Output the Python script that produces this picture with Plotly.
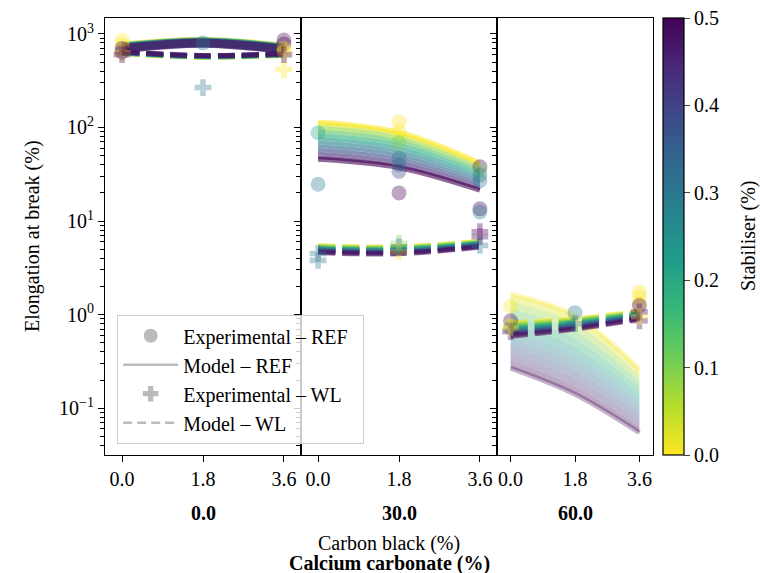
import plotly.graph_objects as go
from plotly.colors import sample_colorscale, unlabel_rgb

# ---------------------------------------------------------------- data
cb_levels = [0.0, 1.8, 3.6]                     # carbon black (%)
cb_ticktext = ["0.0", "1.8", "3.6"]
caco3_labels = ["0.0", "30.0", "60.0"]          # calcium carbonate (%)
stab_levels = [0.0, 0.05, 0.1, 0.15, 0.2, 0.25, 0.3, 0.35, 0.4, 0.45, 0.5]

# model predictions, one row per stabiliser level, columns = cb_levels
ref_model_p1 = [[741, 832, 724], [736, 828, 719], [731, 824, 714], [726, 820, 709],
                [721, 816, 705], [716, 813, 700], [711, 809, 695], [706, 805, 690],
                [701, 801, 686], [697, 797, 681], [692, 794, 676]]
wl_model_p1 = [[617, 562, 589], [620, 565, 592], [623, 567, 595], [625, 570, 597],
               [628, 572, 600], [631, 575, 603], [634, 578, 606], [637, 581, 609],
               [640, 583, 611], [643, 586, 614], [646, 589, 617]]
ref_model_p2 = [[114.8, 89.1, 41.7], [104.7, 81.7, 39.0], [95.5, 74.8, 36.5],
                [87.1, 68.5, 34.1], [79.4, 62.8, 31.9], [72.4, 57.5, 29.9],
                [66.1, 52.7, 27.9], [60.3, 48.3, 26.1], [55.0, 44.3, 24.4],
                [50.1, 40.6, 22.9], [45.7, 37.2, 21.4]]
wl_model_p2 = [[5.47, 5.33, 6.11], [5.38, 5.24, 6.02], [5.28, 5.15, 5.93],
               [5.19, 5.06, 5.84], [5.10, 4.97, 5.76], [5.02, 4.89, 5.67],
               [4.93, 4.80, 5.59], [4.85, 4.72, 5.51], [4.76, 4.64, 5.43],
               [4.68, 4.56, 5.35], [4.60, 4.48, 5.27]]
ref_model_p3 = [[1.656, 0.975, 0.261], [1.380, 0.804, 0.223], [1.151, 0.662, 0.191],
                [0.959, 0.546, 0.163], [0.800, 0.450, 0.140], [0.666, 0.371, 0.119],
                [0.555, 0.306, 0.102], [0.462, 0.252, 0.0875], [0.385, 0.208, 0.0748],
                [0.321, 0.171, 0.0640], [0.268, 0.141, 0.0547]]
wl_model_p3 = [[0.820, 0.906, 1.089], [0.793, 0.883, 1.068], [0.767, 0.860, 1.047],
               [0.742, 0.838, 1.027], [0.718, 0.817, 1.007], [0.695, 0.796, 0.987],
               [0.672, 0.776, 0.968], [0.650, 0.756, 0.949], [0.629, 0.737, 0.931],
               [0.609, 0.718, 0.913], [0.589, 0.700, 0.895]]

# experimental results: carbon black, stabiliser, elongation at break
ref_exp_p1_cb = [0, 0, 0, 0, 1.8, 3.6, 3.6, 3.6, 3.6]
ref_exp_p1_stab = [0.0, 0.0, 0.5, 0.5, 0.3, 0.5, 0.5, 0.0, 0.0]
ref_exp_p1_val = [850, 760, 700, 640, 800, 860, 780, 700, 640]
wl_exp_p1_cb = [0, 0, 1.8, 3.6, 3.6]
wl_exp_p1_stab = [0.0, 0.5, 0.3, 0.0, 0.5]
wl_exp_p1_val = [630, 600, 267, 415, 600]

ref_exp_p2_cb = [0, 0, 1.8, 1.8, 1.8, 1.8, 1.8, 1.8, 1.8, 3.6, 3.6, 3.6, 3.6, 3.6, 3.6]
ref_exp_p2_stab = [0.2, 0.3, 0.0, 0.0, 0.1, 0.3, 0.3, 0.4, 0.5, 0.5, 0.1, 0.3, 0.3, 0.5, 0.3]
ref_exp_p2_val = [88, 24.7, 115, 90, 69, 47, 40, 34, 20, 38, 35, 31, 27, 13.5, 12.5]
wl_exp_p2_cb = [0, 0, 1.8, 1.8, 1.8, 3.6, 3.6, 3.6]
wl_exp_p2_stab = [0.3, 0.3, 0.1, 0.0, 0.3, 0.5, 0.5, 0.3]
wl_exp_p2_val = [4.5, 3.8, 5.8, 4.7, 5.3, 7.7, 6.8, 5.5]

ref_exp_p3_cb = [0, 0, 0, 0, 1.8, 3.6, 3.6, 3.6, 3.6]
ref_exp_p3_stab = [0.0, 0.5, 0.0, 0.3, 0.3, 0.0, 0.0, 0.0, 0.5]
ref_exp_p3_val = [1.23, 0.86, 0.76, 0.72, 1.05, 1.75, 1.55, 1.32, 1.25]
wl_exp_p3_cb = [0, 0, 1.8, 3.6, 3.6, 3.6]
wl_exp_p3_stab = [0.5, 0.0, 0.3, 0.5, 0.5, 0.0]
wl_exp_p3_val = [0.66, 0.72, 0.8, 1.07, 0.86, 0.95]

stab_ticks = [0.0, 0.1, 0.2, 0.3, 0.4, 0.5]
stab_ticktext = ["0.0", "0.1", "0.2", "0.3", "0.4", "0.5"]

# ---------------------------------------------------------------- styling
W, H = 760, 573
FONT = "Liberation Serif"
STAB_MAX = 0.5
NBSP = "\u00a0"


def px(x):
    return x / W


def py(y):
    return 1 - y / H


def stab_colour(s, alpha):
    r, g, b = unlabel_rgb(sample_colorscale("Viridis", [1 - s / STAB_MAX])[0])
    return f"rgba({int(r)},{int(g)},{int(b)},{alpha})"


fig = go.Figure()

# per panel: model tables, experimental points, REF band style
# band style = (as filled band?, line width, line alpha, fill alpha)
panels = [
    (ref_model_p1, wl_model_p1, ref_exp_p1_cb, ref_exp_p1_stab, ref_exp_p1_val,
     wl_exp_p1_cb, wl_exp_p1_stab, wl_exp_p1_val, (False, 9, 0.4, 0)),
    (ref_model_p2, wl_model_p2, ref_exp_p2_cb, ref_exp_p2_stab, ref_exp_p2_val,
     wl_exp_p2_cb, wl_exp_p2_stab, wl_exp_p2_val, (True, 5, 0.6, 0.62)),
    (ref_model_p3, wl_model_p3, ref_exp_p3_cb, ref_exp_p3_stab, ref_exp_p3_val,
     wl_exp_p3_cb, wl_exp_p3_stab, wl_exp_p3_val, (True, 5, 0.3, 0.36)),
]

for i, (ref_m, wl_m, rcb, rst, rv, wcb, wst, wv, band) in enumerate(panels):
    xa = "x" if i == 0 else f"x{i + 1}"
    ya = "y" if i == 0 else f"y{i + 1}"
    filled, lw, la, fa = band
    if filled:
        # continuous band: strips between neighbouring stabiliser levels
        prev = None
        for s, row in zip(stab_levels, ref_m):
            fig.add_trace(go.Scatter(
                x=cb_levels, y=row, mode="lines", xaxis=xa, yaxis=ya,
                line=dict(width=0, shape="spline", color="rgba(0,0,0,0)"),
                fill=None if prev is None else "tonexty",
                fillcolor=None if prev is None else stab_colour((s + prev) / 2, fa),
                showlegend=False, hoverinfo="skip"))
            prev = s
        edge_levels = [(stab_levels[0], ref_m[0]), (stab_levels[-1], ref_m[-1])]
        for s, row in edge_levels:
            fig.add_trace(go.Scatter(
                x=cb_levels, y=row, mode="lines", xaxis=xa, yaxis=ya,
                line=dict(color=stab_colour(s, la), width=lw, shape="spline"),
                showlegend=False, hoverinfo="skip"))
    else:
        for s, row in zip(stab_levels, ref_m):
            fig.add_trace(go.Scatter(
                x=cb_levels, y=row, mode="lines", xaxis=xa, yaxis=ya,
                line=dict(color=stab_colour(s, la), width=lw, shape="spline"),
                showlegend=False, hoverinfo="skip"))
    for s, row in zip(stab_levels, wl_m):
        fig.add_trace(go.Scatter(
            x=cb_levels, y=row, mode="lines", xaxis=xa, yaxis=ya,
            line=dict(color=stab_colour(s, 0.55), width=5, shape="spline",
                      dash="17px,7px"),
            showlegend=False, hoverinfo="skip"))
    # experimental points
    fig.add_trace(go.Scatter(
        x=rcb, y=rv, mode="markers", xaxis=xa, yaxis=ya,
        marker=dict(symbol="circle", size=15, color=[stab_colour(s, 0.35) for s in rst],
                    line=dict(width=0)),
        showlegend=False))
    fig.add_trace(go.Scatter(
        x=wcb, y=wv, mode="markers", xaxis=xa, yaxis=ya,
        marker=dict(symbol="cross", size=14, color=[stab_colour(s, 0.35) for s in wst],
                    line=dict(width=0)),
        showlegend=False))

# legend entries
GREY = "rgba(170,170,170,0.8)"
fig.add_trace(go.Scatter(x=[None], y=[None], mode="markers",
                         name="Experimental – REF" + NBSP * 2,
                         marker=dict(symbol="circle", size=14, color=GREY)))
fig.add_trace(go.Scatter(x=[None], y=[None], mode="lines", name="Model – REF",
                         line=dict(color=GREY, width=2.5)))
fig.add_trace(go.Scatter(x=[None], y=[None], mode="markers", name="Experimental – WL",
                         marker=dict(symbol="cross", size=13, color=GREY)))
fig.add_trace(go.Scatter(x=[None], y=[None], mode="lines", name="Model – WL",
                         line=dict(color=GREY, width=2.5, dash="9px,5px")))

# stabiliser colour bar
fig.add_trace(go.Scatter(
    x=[None], y=[None], mode="markers", xaxis="x3", yaxis="y3", showlegend=False,
    marker=dict(color=[0], colorscale="Viridis", reversescale=True, cmin=0, cmax=STAB_MAX,
                showscale=True,
                colorbar=dict(x=px(663), xanchor="left", y=py(236.5), yanchor="middle",
                              len=437 / H, lenmode="fraction", thickness=21,
                              thicknessmode="pixels", outlinewidth=1.2, outlinecolor="black",
                              xpad=0, ypad=0, ticks="outside", ticklen=6, tickwidth=1.2,
                              tickvals=stab_ticks, ticktext=stab_ticktext,
                              tickfont=dict(family=FONT, size=20, color="black")))))

x_edges = [(105, 301), (301, 497), (497, 653)]
y_dom = [py(455), py(18)]
y_major = [0.1, 1, 10, 100, 1000]
y_major_text = ["10<sup>−1</sup>", "10<sup>0</sup>", "10<sup>1</sup>",
                "10<sup>2</sup>", "10<sup>3</sup>"]
y_minor = [m * 10 ** e for e in range(-2, 4) for m in range(2, 10)]

axis_common = dict(showline=True, mirror=True, linecolor="black", linewidth=1.1,
                   showgrid=False, zeroline=False, ticks="outside", tickwidth=1.1,
                   tickcolor="black")
layout_axes = {}
for i, (l, r) in enumerate(x_edges):
    sx = "" if i == 0 else str(i + 1)
    layout_axes[f"xaxis{sx}"] = dict(
        domain=[px(l), px(r)], range=[-0.38, 3.98], anchor=f"y{sx}",
        tickmode="array", tickvals=cb_levels, ticktext=cb_ticktext, ticklen=6,
        tickfont=dict(family=FONT, size=20), **axis_common)
    layout_axes[f"yaxis{sx}"] = dict(
        domain=y_dom, type="log", range=[-1.5, 3.17], anchor=f"x{sx}",
        tickmode="array", tickvals=y_major, ticktext=y_major_text, ticklen=6,
        showticklabels=(i == 0), tickfont=dict(family=FONT, size=20),
        minor=dict(tickmode="array", tickvals=y_minor, ticks="outside", ticklen=3.5,
                   tickwidth=1, tickcolor="black", showgrid=False),
        **axis_common)

fig.update_layout(
    width=W, height=H, margin=dict(l=0, r=0, t=0, b=0),
    plot_bgcolor="white", paper_bgcolor="white",
    font=dict(family=FONT, size=20, color="black"),
    legend=dict(x=px(117), y=py(315), xanchor="left", yanchor="top",
                traceorder="normal",
                bgcolor="rgba(255,255,255,0.8)", bordercolor="#cccccc", borderwidth=1.2,
                font=dict(family=FONT, size=20), tracegroupgap=0, itemwidth=55),
    **layout_axes)

annotations = [
    dict(x=px(32), y=py(236), text="Elongation at break (%)", textangle=-90),
    dict(x=px(389), y=py(543), text="Carbon black (%)"),
    dict(x=px(389), y=py(563), text="<b>Calcium carbonate (%)</b>"),
    dict(x=px(748), y=py(236), text="Stabiliser (%)", textangle=-90),
]
for (l, r), lab in zip(x_edges, caco3_labels):
    centre = l + (r - l) * (1.8 + 0.38) / (3.98 + 0.38)
    annotations.append(dict(x=px(centre), y=py(513), text=f"<b>{lab}</b>"))
for a in annotations:
    a.update(xref="paper", yref="paper", showarrow=False, xanchor="center",
             yanchor="middle", font=dict(family=FONT, size=20, color="black"))
fig.update_layout(annotations=annotations)

fig.write_html("out.html")
